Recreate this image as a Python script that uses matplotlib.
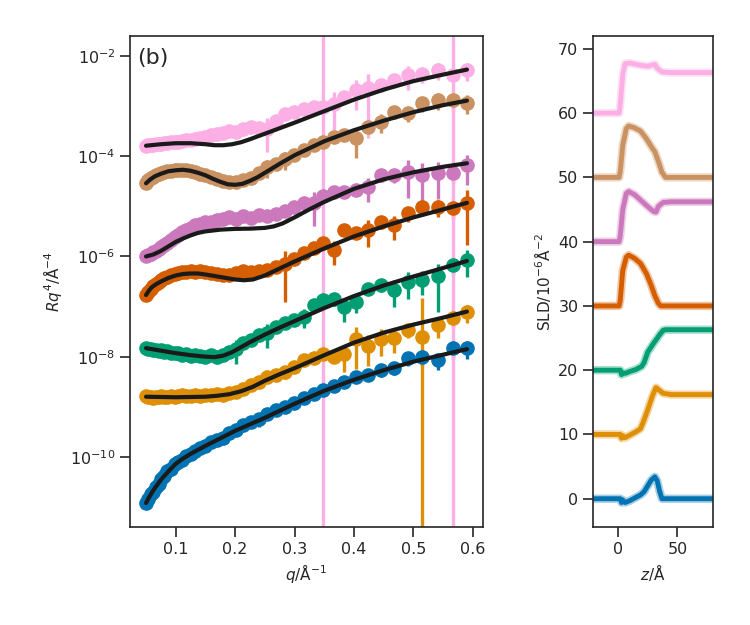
import numpy as np
import matplotlib
matplotlib.use("Agg")
import matplotlib.pyplot as plt
import seaborn as sns

sns.set_theme(style="ticks", palette="colorblind")
plt.rcParams['font.family'] = ['DejaVu Sans']

colors = sns.color_palette("colorblind")
# blue, orange, green, red, purple, brown, pink
series_colors = [colors[0], colors[1], colors[2], colors[3], colors[4], colors[5], colors[6]]

# shared q grid of the measured data
q = [0.050, 0.054, 0.058, 0.062, 0.066, 0.071, 0.076, 0.081, 0.086, 0.092,
     0.098, 0.104, 0.111, 0.118, 0.125, 0.133, 0.141, 0.150, 0.159, 0.169,
     0.179, 0.190, 0.201, 0.213, 0.226, 0.240, 0.254, 0.269, 0.284, 0.299,
     0.315, 0.332, 0.348, 0.366, 0.383, 0.403, 0.423, 0.445, 0.467, 0.491,
     0.515, 0.541, 0.567, 0.590]

# log10(R q^4), offset data sets
logR_blue = [-10.93, -10.84, -10.75, -10.70, -10.61, -10.54, -10.44, -10.38, -10.29, -10.24,
             -10.15, -10.10, -10.06, -9.98, -9.95, -9.88, -9.83, -9.79, -9.71, -9.66,
             -9.62, -9.52, -9.46, -9.36, -9.30, -9.24, -9.14, -9.07, -9.00, -8.93,
             -8.82, -8.74, -8.66, -8.58, -8.50, -8.40, -8.36, -8.26, -8.22, -8.02,
             -8.00, -8.07, -7.83, -7.83]
logR_orange = [-8.79, -8.81, -8.80, -8.82, -8.80, -8.81, -8.79, -8.81, -8.80, -8.78,
               -8.80, -8.79, -8.77, -8.79, -8.78, -8.76, -8.79, -8.76, -8.77, -8.74,
               -8.76, -8.72, -8.70, -8.64, -8.56, -8.50, -8.40, -8.36, -8.30, -8.21,
               -8.06, -8.02, -7.95, -8.01, -7.95, -7.65, -7.78, -7.64, -7.62, -7.46,
               -7.60, -7.36, -7.22, -7.11]
logR_green = [-7.82, -7.84, -7.84, -7.87, -7.86, -7.88, -7.87, -7.90, -7.89, -7.92,
              -7.93, -7.93, -7.96, -7.95, -7.98, -7.97, -7.99, -8.00, -7.97, -8.00,
              -7.96, -7.90, -7.85, -7.72, -7.66, -7.57, -7.52, -7.40, -7.33, -7.27,
              -7.20, -6.97, -6.86, -6.84, -7.00, -6.90, -6.64, -6.56, -6.67, -6.50,
              -6.47, -6.40, -6.17, -6.07]
logR_red = [-6.76, -6.70, -6.64, -6.58, -6.54, -6.50, -6.47, -6.43, -6.41, -6.38,
            -6.35, -6.33, -6.32, -6.31, -6.29, -6.31, -6.30, -6.32, -6.33, -6.36,
            -6.37, -6.38, -6.33, -6.29, -6.32, -6.30, -6.28, -6.22, -6.16, -6.05,
            -5.94, -5.84, -5.74, -5.87, -5.47, -5.54, -5.47, -5.31, -5.37, -5.14,
            -5.01, -5.01, -5.04, -4.94]
logR_purple = [-5.99, -5.97, -5.95, -5.92, -5.89, -5.86, -5.82, -5.77, -5.73, -5.68,
               -5.62, -5.57, -5.52, -5.47, -5.43, -5.38, -5.36, -5.31, -5.31, -5.27,
               -5.26, -5.22, -5.25, -5.20, -5.24, -5.18, -5.19, -5.15, -5.10, -5.02,
               -4.94, -4.93, -4.80, -4.71, -4.71, -4.67, -4.61, -4.37, -4.37, -4.31,
               -4.37, -4.34, -4.34, -4.18]
logR_brown = [-4.53, -4.48, -4.44, -4.41, -4.38, -4.36, -4.33, -4.32, -4.30, -4.29,
              -4.28, -4.27, -4.28, -4.28, -4.30, -4.31, -4.35, -4.37, -4.42, -4.45,
              -4.50, -4.52, -4.52, -4.48, -4.43, -4.33, -4.22, -4.16, -4.06, -3.98,
              -3.88, -3.78, -3.72, -3.61, -3.58, -3.64, -3.41, -3.31, -3.11, -3.14,
              -2.94, -2.88, -2.88, -2.93]
logR_pink = [-3.79, -3.78, -3.78, -3.77, -3.76, -3.76, -3.75, -3.74, -3.73, -3.72,
             -3.72, -3.71, -3.70, -3.68, -3.67, -3.66, -3.63, -3.62, -3.58, -3.56,
             -3.54, -3.50, -3.52, -3.46, -3.42, -3.43, -3.45, -3.30, -3.16, -3.12,
             -3.05, -3.02, -3.01, -2.95, -2.81, -2.68, -2.64, -2.58, -2.48, -2.38,
             -2.35, -2.28, -2.38, -2.28]

# relative uncertainty dR/R, common baseline plus per-set outliers
rel_err = [0.03, 0.03, 0.03, 0.03, 0.03, 0.03, 0.03, 0.03, 0.03, 0.03,
           0.03, 0.03, 0.03, 0.03, 0.03, 0.03, 0.03, 0.03, 0.03, 0.03,
           0.03, 0.03, 0.05, 0.06, 0.07, 0.08, 0.09, 0.10, 0.11, 0.12,
           0.15, 0.17, 0.18, 0.20, 0.22, 0.24, 0.26, 0.28, 0.30, 0.32,
           0.34, 0.36, 0.38, 0.40]
err_blue = {25: 0.3, 41: 0.35}
err_orange = {28: 0.3, 30: 0.3, 34: 0.55, 35: 0.75, 36: 0.6, 37: 0.55, 38: 0.5, 40: 5.0, 41: 0.45}
err_green = {22: 0.5, 26: 0.5, 30: 0.4, 33: 0.3, 34: 0.5, 35: 0.4, 38: 0.55, 39: 0.55, 40: 0.5, 41: 0.8, 43: 0.55}
err_red = {28: 0.82, 33: 0.5, 36: 0.55, 38: 0.5, 43: 0.85}
err_purple = {31: 0.65, 36: 0.5, 39: 0.7, 40: 0.75, 41: 0.7, 43: 0.6}
err_brown = {26: 0.4, 28: 0.4, 35: 0.6, 37: 0.4}
err_pink = {26: 0.65, 32: 50.0, 33: 0.7, 35: 0.6, 36: 0.9, 39: 0.5, 42: 50.0}

# model (fit) curves, log10(R q^4)
fit_q_blue = [0.05, 0.055, 0.06, 0.065, 0.07, 0.075, 0.08, 0.09, 0.1, 0.11, 0.125, 0.15,
              0.175, 0.2, 0.225, 0.25, 0.3, 0.35, 0.4, 0.45, 0.5, 0.55, 0.59]
fit_blue = [-10.92, -10.81, -10.71, -10.62, -10.54, -10.46, -10.39, -10.26, -10.14, -10.05,
            -9.94, -9.78, -9.63, -9.48, -9.35, -9.22, -8.94, -8.68, -8.46, -8.27, -8.10,
            -7.96, -7.85]
fit_q_orange = [0.05, 0.1, 0.15, 0.17, 0.19, 0.21, 0.23, 0.25, 0.275, 0.3, 0.35, 0.4,
                0.45, 0.5, 0.55, 0.59]
fit_orange = [-8.80, -8.81, -8.80, -8.78, -8.75, -8.69, -8.60, -8.48, -8.35, -8.23, -7.97,
              -7.72, -7.52, -7.36, -7.22, -7.10]
fit_q_green = [0.05, 0.075, 0.1, 0.125, 0.15, 0.165, 0.18, 0.195, 0.21, 0.225, 0.25,
               0.275, 0.3, 0.35, 0.4, 0.45, 0.5, 0.55, 0.59]
fit_green = [-7.83, -7.88, -7.93, -7.97, -8.00, -8.01, -7.98, -7.91, -7.81, -7.71, -7.56,
             -7.42, -7.29, -7.03, -6.79, -6.58, -6.40, -6.23, -6.09]
fit_q_red = [0.05, 0.055, 0.06, 0.0675, 0.075, 0.0875, 0.1, 0.1125, 0.125, 0.1375, 0.15,
             0.175, 0.2, 0.215, 0.23, 0.25, 0.275, 0.3, 0.35, 0.4, 0.45, 0.5, 0.55, 0.59]
fit_red = [-6.77, -6.68, -6.61, -6.55, -6.50, -6.43, -6.38, -6.35, -6.34, -6.34, -6.36,
           -6.41, -6.46, -6.475, -6.46, -6.38, -6.24, -6.10, -5.84, -5.60, -5.40, -5.22,
           -5.06, -4.93]
fit_q_purple = [0.05, 0.0625, 0.075, 0.0875, 0.1, 0.1125, 0.125, 0.1375, 0.15, 0.175, 0.2,
                0.225, 0.25, 0.265, 0.28, 0.3, 0.325, 0.35, 0.4, 0.45, 0.5, 0.55, 0.59]
fit_purple = [-6.00, -5.96, -5.89, -5.80, -5.71, -5.64, -5.58, -5.53, -5.50, -5.465, -5.45,
              -5.445, -5.43, -5.40, -5.34, -5.22, -5.06, -4.91, -4.65, -4.46, -4.32, -4.21,
              -4.14]
fit_q_brown = [0.05, 0.0575, 0.065, 0.075, 0.0875, 0.1, 0.1125, 0.125, 0.1375, 0.15,
               0.1625, 0.175, 0.1875, 0.2, 0.2125, 0.225, 0.2375, 0.25, 0.275, 0.3, 0.35,
               0.4, 0.45, 0.5, 0.55, 0.59]
fit_brown = [-4.54, -4.46, -4.40, -4.35, -4.30, -4.28, -4.27, -4.29, -4.33, -4.38, -4.45,
             -4.51, -4.56, -4.57, -4.55, -4.49, -4.42, -4.33, -4.15, -3.98, -3.70, -3.48,
             -3.29, -3.12, -2.98, -2.89]
fit_q_pink = [0.05, 0.075, 0.1, 0.125, 0.15, 0.165, 0.18, 0.195, 0.21, 0.225, 0.25, 0.275,
              0.3, 0.35, 0.4, 0.45, 0.5, 0.55, 0.59]
fit_pink = [-3.79, -3.76, -3.74, -3.74, -3.76, -3.78, -3.78, -3.76, -3.72, -3.66, -3.55,
            -3.44, -3.33, -3.10, -2.87, -2.67, -2.50, -2.37, -2.27]

# SLD profiles (offset by 10 each)
z_blue = [-21, 2, 3, 4, 6, 10, 15, 19, 22, 25, 28, 31, 33, 35, 37, 80]
sld_blue = [0, 0, -0.6, -0.2, -0.6, -0.3, 0.2, 0.6, 1.1, 2.0, 2.9, 3.4, 2.8, 1.2, 0, 0]
z_orange = [-21, 2, 3, 4, 6, 10, 15, 19, 21, 25, 29, 32, 34, 38, 45, 80]
sld_orange = [10, 10, 9.4, 9.8, 9.5, 9.9, 10.4, 10.9, 11.8, 13.8, 16, 17.3, 17.0, 16.4, 16.2, 16.2]
z_green = [-21, 2, 3, 4, 6, 10, 15, 20, 22, 25, 30, 35, 38, 40, 80]
sld_green = [20, 20, 19.3, 19.6, 19.5, 19.8, 20.1, 20.6, 21.2, 22.8, 24.2, 25.5, 26.2, 26.3, 26.3]
z_red = [-21, 1, 2, 4, 7, 9, 14, 19, 24, 28, 31, 34, 36, 80]
sld_red = [30, 30, 31, 35.5, 37.6, 37.9, 37.4, 36.6, 35, 33.2, 31.6, 30.4, 30, 30]
z_purple = [-21, 1, 2, 4, 7, 9, 14, 20, 26, 30, 32, 34, 38, 45, 80]
sld_purple = [40, 40, 41, 45, 47.5, 47.8, 47.3, 46.3, 45.3, 44.7, 44.6, 45.5, 46.1, 46.2, 46.2]
z_brown = [-21, 1, 2, 4, 7, 9, 14, 19, 24, 28, 31, 34, 37, 40, 80]
sld_brown = [50, 50, 51, 55, 57.6, 58, 57.7, 57.2, 56, 54.8, 54, 52.5, 50.8, 50, 50]
z_pink = [-21, 1, 2, 4, 6, 10, 15, 20, 25, 29, 31, 33, 37, 45, 80]
sld_pink = [60, 60, 61.5, 66, 67.7, 67.8, 67.6, 67.4, 67.3, 67.5, 67.6, 67.0, 66.4, 66.3, 66.3]

refl_sets = [
    (logR_blue, err_blue, fit_q_blue, fit_blue),
    (logR_orange, err_orange, fit_q_orange, fit_orange),
    (logR_green, err_green, fit_q_green, fit_green),
    (logR_red, err_red, fit_q_red, fit_red),
    (logR_purple, err_purple, fit_q_purple, fit_purple),
    (logR_brown, err_brown, fit_q_brown, fit_brown),
    (logR_pink, err_pink, fit_q_pink, fit_pink),
]
sld_sets = [(z_blue, sld_blue), (z_orange, sld_orange), (z_green, sld_green),
            (z_red, sld_red), (z_purple, sld_purple), (z_brown, sld_brown),
            (z_pink, sld_pink)]

fig = plt.figure(figsize=(7.5, 6.25), dpi=100)
ax1 = fig.add_axes([0.1733, 0.1568, 0.4707, 0.7856])
ax2 = fig.add_axes([0.7907, 0.1568, 0.16, 0.7856])

q_arr = np.array(q)
for (logR, extra, fq, flog), c in zip(refl_sets, series_colors):
    R = 10 ** np.array(logR)
    e = np.array(rel_err)
    for i, v in extra.items():
        e[i] = v
    ax1.errorbar(q_arr, R, yerr=R * e, fmt='o', color=c, ms=9.5, elinewidth=2.4,
                 capsize=0, zorder=2)
    ax1.plot(fq, 10 ** np.array(flog), color='#1a1a1a', lw=3, zorder=3,
             solid_joinstyle='round')

ax1.set_yscale('log')
ax1.set_xlim(0.023, 0.617)
ax1.set_ylim(10 ** -11.4, 10 ** -1.6)
ax1.set_yticks([1e-10, 1e-8, 1e-6, 1e-4, 1e-2])
ax1.yaxis.set_minor_locator(matplotlib.ticker.NullLocator())
ax1.set_xticks([0.1, 0.2, 0.3, 0.4, 0.5, 0.6])
ax1.set_xlabel(r'$q$/Å$^{-1}$', fontsize=11)
ax1.set_ylabel(r'$Rq^4$/Å$^{-4}$', fontsize=11)
ax1.text(0.02, 0.955, '(b)', transform=ax1.transAxes, fontsize=16,
         va='center', ha='left', color='.15')

for (z, s), c in zip(sld_sets, series_colors):
    ax2.plot(z, s, color=c, lw=6, alpha=0.35, solid_joinstyle='round')
    ax2.plot(z, s, color=c, lw=3.5, solid_joinstyle='round')

ax2.set_xlim(-21, 80)
ax2.set_ylim(-4.4, 72)
ax2.set_xticks([0, 50])
ax2.set_yticks([0, 10, 20, 30, 40, 50, 60, 70])
ax2.set_xlabel(r'$z$/Å', fontsize=11)
ax2.set_ylabel(r'SLD/$10^{-6}$Å$^{-2}$', fontsize=11)

for ax in (ax1, ax2):
    ax.tick_params(labelsize=11.5, length=7, width=1.2)
    for sp in ax.spines.values():
        sp.set_linewidth(1.2)
        sp.set_color('.15')

fig.savefig('out.png', dpi=100)
